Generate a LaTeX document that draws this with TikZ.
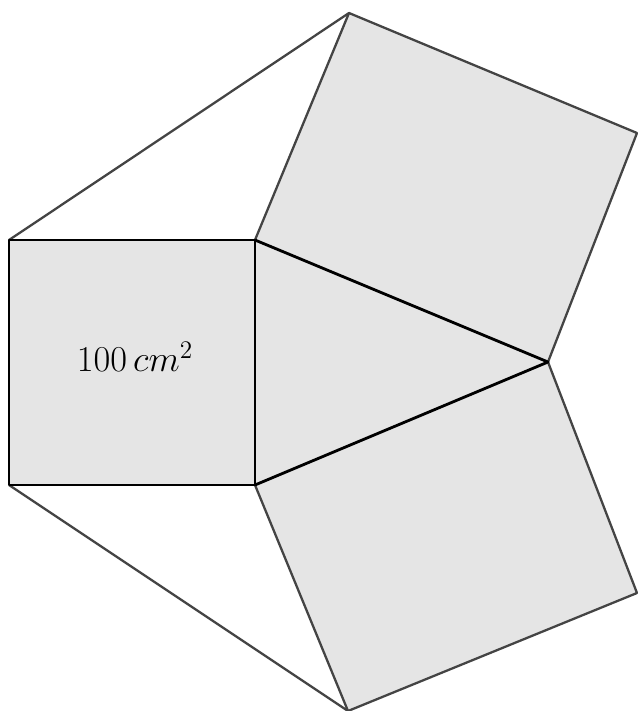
\documentclass[tikz,border=0pt]{standalone}
\definecolor{gray1}{RGB}{229, 229, 229}
\definecolor{gray2}{RGB}{68, 68, 68}
\usepackage{tikz}
\usetikzlibrary{calc}
\usepackage{amsmath, amssymb}

\begin{document}
\begin{tikzpicture}[x=0.02cm, y=-0.02cm,
    outer/.style={draw=gray2, line width=1.3pt, line join=round},
    inner/.style={draw=black, line width=1.6pt, line join=round}]
  \useasboundingbox (0,0) rectangle (638,711);
  % square and triangle
  \coordinate (sqtl) at (9,240);
  \coordinate (sqtr) at (255,240);
  \coordinate (sqbr) at (255,485);
  \coordinate (sqbl) at (9,485);
  \coordinate (apex) at (548,362);
  % rectangles on the triangle sides
  \coordinate (uptop) at (349,13);
  \coordinate (upright) at (637,133);
  \coordinate (lowright) at (637,593);
  \coordinate (lowbot) at (348,711);
  \fill[gray1] (sqtr) -- (uptop) -- (upright) -- (apex) -- cycle;
  \fill[gray1] (sqbr) -- (apex) -- (lowright) -- (lowbot) -- cycle;
  \fill[gray1] (sqtl) rectangle (sqbr);
  \fill[gray1] (sqtr) -- (apex) -- (sqbr) -- cycle;
  \draw[outer] (sqtl) -- (uptop) -- (upright) -- (apex) -- (lowright) -- (lowbot) -- (sqbl);
  \draw[outer] (sqtr) -- (uptop);
  \draw[outer] (sqbr) -- (lowbot);
  \draw[inner] (sqtl) rectangle (sqbr);
  \draw[inner] (sqtr) -- (apex) -- (sqbr);
  \node[font=\fontsize{20}{24}\selectfont] (area) at ($(sqtl)!0.5!(sqbr)+(3,-6)$) {$100\,cm^2$};
\end{tikzpicture}
\end{document}
